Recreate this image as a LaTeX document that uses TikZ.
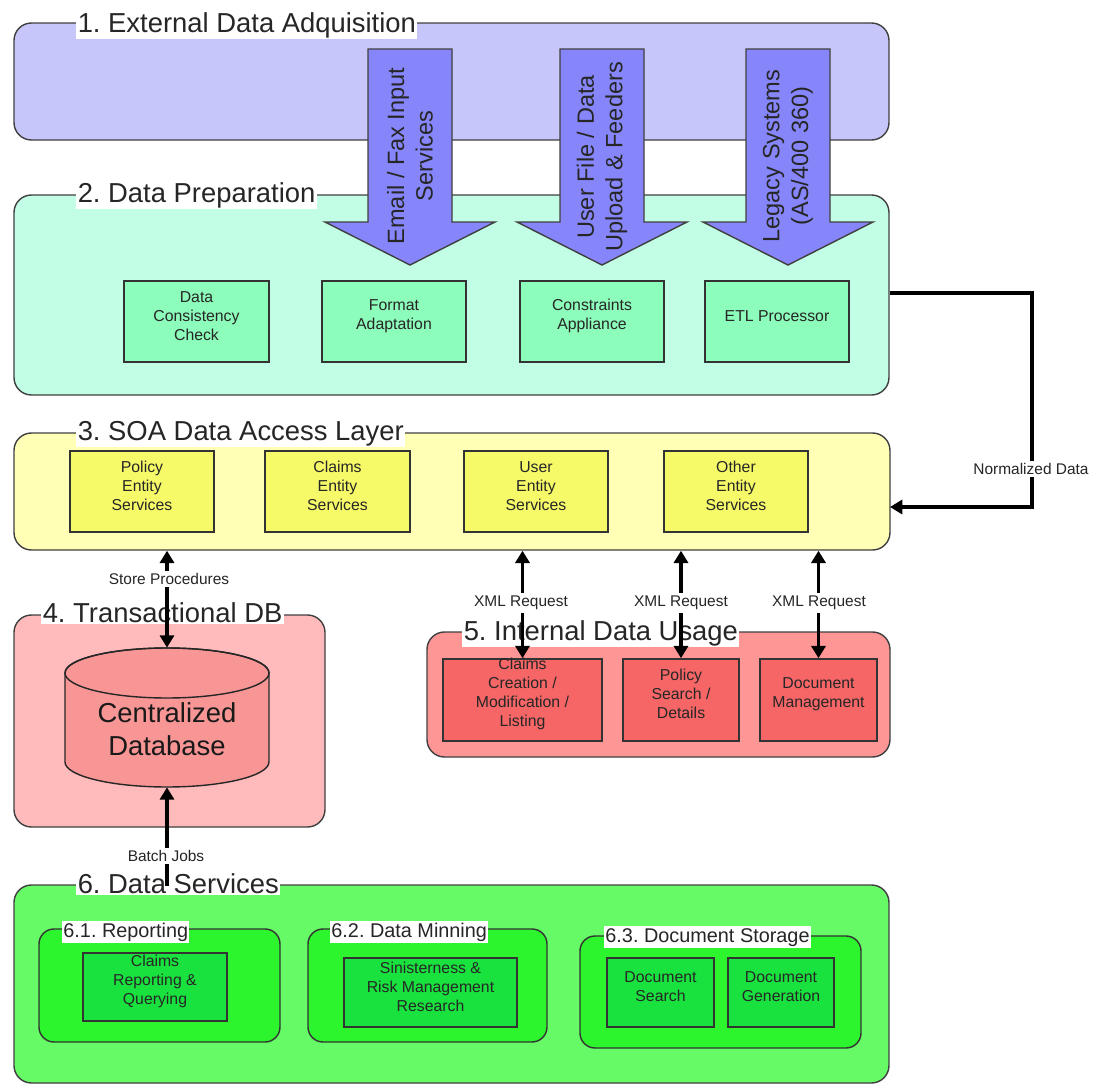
\documentclass[tikz,border=0pt]{standalone}
\usepackage{fontspec}
\setmainfont{Liberation Sans}
\frenchspacing
\usetikzlibrary{fit,calc,arrows.meta}
\definecolor{cone}{RGB}{198,198,250}
\definecolor{carrow}{RGB}{134,134,250}
\definecolor{ctwo}{RGB}{194,253,229}
\definecolor{cgreen}{RGB}{140,253,186}
\definecolor{cthree}{RGB}{255,255,182}
\definecolor{cyellow}{RGB}{247,250,104}
\definecolor{cfour}{RGB}{255,187,187}
\definecolor{cdb}{RGB}{248,150,150}
\definecolor{cfive}{RGB}{255,150,150}
\definecolor{cred}{RGB}{247,102,102}
\definecolor{csix}{RGB}{102,250,102}
\definecolor{csub}{RGB}{45,245,45}
\definecolor{cinner}{RGB}{25,225,62}
\begin{document}
\begin{tikzpicture}[x=0.02cm,y=-0.02cm,
  >={Triangle[width=8pt,length=7pt]},
  bigbox/.style={draw=black!75, line width=0.8pt, rounded corners=0.35cm, inner sep=0pt},
  subbox/.style={draw=black!80, line width=0.8pt, rounded corners=0.3cm, inner sep=0pt, fill=csub},
  itembox/.style={draw=black!80, line width=0.9pt, inner sep=0pt, align=center, text=black!85,
    font=\fontsize{9pt}{10.8pt}\selectfont},
  lbl/.style={fill=white, inner xsep=0.8pt, inner ysep=1pt, anchor=base west, text=black!85,
    font=\fontsize{15.6pt}{18pt}\selectfont},
  sublbl/.style={fill=white, inner xsep=0.6pt, inner ysep=1pt, anchor=base west, text=black!85,
    font=\fontsize{11.3pt}{13pt}\selectfont},
  barrow/.style={fill=carrow, draw=black!75, line width=0.8pt},
  arrtext/.style={rotate=90, align=center, text=black!85, font=\fontsize{13.4pt}{16.3pt}\selectfont},
  conn/.style={line width=2.1pt, black},
  clbl/.style={fill=white, inner xsep=1pt, inner ysep=1.5pt, text=black!85, font=\fontsize{8.8pt}{10pt}\selectfont}
]
\useasboundingbox (0,0) rectangle (1107,1085);

% ---------- 1. External Data Adquisition
\node[bigbox, fill=cone, fit={(14,23) (889,140)}] (b1) {};
\node[lbl] (l1) at (76,32) {1. External Data Adquisition};

% ---------- 2. Data Preparation
\node[bigbox, fill=ctwo, fit={(14,195) (889,395)}] (b2) {};
\node[lbl] (l2) at (76,202) {2. Data Preparation};

% block arrows
\foreach \cx in {410,602,788}{
  \draw[barrow] ({\cx-42},49) -- ({\cx+42},49) -- ({\cx+42},222) -- ({\cx+85},222)
    -- (\cx,265) -- ({\cx-85},222) -- ({\cx-42},222) -- cycle;
}
\node[arrtext] (a1) at (410,156) {Email / Fax Input\\Services};
\node[arrtext] (a2) at (602,157) {User File / Data\\Upload \& Feeders};
\node[arrtext] (a3) at (788,156) {Legacy Systems\\(AS/400 360)};

\node[itembox, fill=cgreen, fit={(124,281) (269,362)}] (g1) {Data\\Consistency\\Check};
\node[itembox, fill=cgreen, fit={(322,281) (466,362)}] (g2) {Format\\Adaptation};
\node[itembox, fill=cgreen, fit={(520,281) (664,362)}] (g3) {Constraints\\Appliance};
\node[itembox, fill=cgreen, fit={(705,281) (849,362)}] (g4) {ETL Processor};

% ---------- 3. SOA Data Access Layer
\node[bigbox, fill=cthree, fit={(14,433) (890,550)}] (b3) {};
\node[lbl] (l3) at (76,440) {3. SOA Data Access Layer};
\node[itembox, fill=cyellow, fit={(70,451) (214,532)}] (y1) {Policy\\Entity\\Services};
\node[itembox, fill=cyellow, fit={(265,451) (410,532)}] (y2) {Claims\\Entity\\Services};
\node[itembox, fill=cyellow, fit={(464,451) (608,532)}] (y3) {User\\Entity\\Services};
\node[itembox, fill=cyellow, fit={(664,451) (808,532)}] (y4) {Other\\Entity\\Services};

% ---------- 4. Transactional DB
\node[bigbox, fill=cfour, fit={(14,615) (325,827)}] (b4) {};
\node[lbl] (l4) at (41,622) {4. Transactional DB};
\node[inner sep=0pt, fit={(65,648) (269,787)}] (db) {};
\draw[fill=cdb, draw=black!85, line width=0.8pt] (65,673) -- (65,762)
  arc[start angle=180, end angle=360, x radius=2.04cm, y radius=0.5cm] -- (269,673)
  arc[start angle=0, end angle=180, x radius=2.04cm, y radius=0.5cm] -- cycle;
\draw[draw=black!85, line width=0.8pt] (167,673) ellipse [x radius=2.04cm, y radius=0.5cm];
\node[align=center, text=black!90, font=\fontsize{15.6pt}{18.7pt}\selectfont] (dbt) at (167,729) {Centralized\\Database};

% ---------- 5. Internal Data Usage
\node[bigbox, fill=cfive, fit={(427,632) (890,757)}] (b5) {};
\node[lbl] (l5) at (462,640) {5. Internal Data Usage};
\node[itembox, fill=cred, fit={(443,659) (602,741)}] (r1) {Claims\\Creation /\\Modification /\\Listing};
\node[itembox, fill=cred, fit={(623,659) (739,741)}] (r2) {Policy\\Search /\\Details};
\node[itembox, fill=cred, fit={(760,659) (877,741)}] (r3) {Document\\Management};

% ---------- 6. Data Services
\node[bigbox, fill=csix, fit={(14,885) (889,1083)}] (b6) {};
\node[lbl] (l6) at (76,893) {6. Data Services};
\node[subbox, fit={(39,929) (280,1042)}] (s1) {};
\node[sublbl] (sl1) at (62,937) {6.1. Reporting};
\node[subbox, fit={(308,929) (547,1042)}] (s2) {};
\node[sublbl] (sl2) at (330,937) {6.2. Data Minning};
\node[subbox, fit={(580,936) (861,1048)}] (s3) {};
\node[sublbl] (sl3) at (604,942) {6.3. Document Storage};
\node[itembox, fill=cinner, fit={(83,953) (227,1021)}] (i1) {Claims\\Reporting \&\\Querying};
\node[itembox, fill=cinner, fit={(344,958) (517,1027)}] (i2) {Sinisterness \&\\Risk Management\\Research};
\node[itembox, fill=cinner, fit={(607,958) (714,1027)}] (i3) {Document\\Search};
\node[itembox, fill=cinner, fit={(728,958) (834,1027)}] (i4) {Document\\Generation};

% ---------- connectors
\coordinate (ndc) at (1032,293);
\coordinate (ndin) at (890,507);
\draw[conn,->] (b2.east |- ndc) -- (ndc) |- (ndin);
\node[clbl] (ndl) at (1031,469) {Normalized Data};

\draw[conn,<->] (b3.south -| db.north) -- (db.north);
\node[clbl] (spl) at (169,579) {Store Procedures};

\draw[conn,->] ($(b6.north -| db.south)+(0,2)$) -- (db.south);
\node[clbl] (bjl) at (166,856) {Batch Jobs};

\draw[conn,<->] (b3.south -| r1.north) -- (r1.north);
\draw[conn,<->] (b3.south -| r2.north) -- (r2.north);
\draw[conn,<->] (b3.south -| r3.north) -- (r3.north);
\node[clbl] (xl1) at (521,603) {XML Request};
\node[clbl] (xl2) at (681,603) {XML Request};
\node[clbl] (xl3) at (819,603) {XML Request};
\end{tikzpicture}
\end{document}
